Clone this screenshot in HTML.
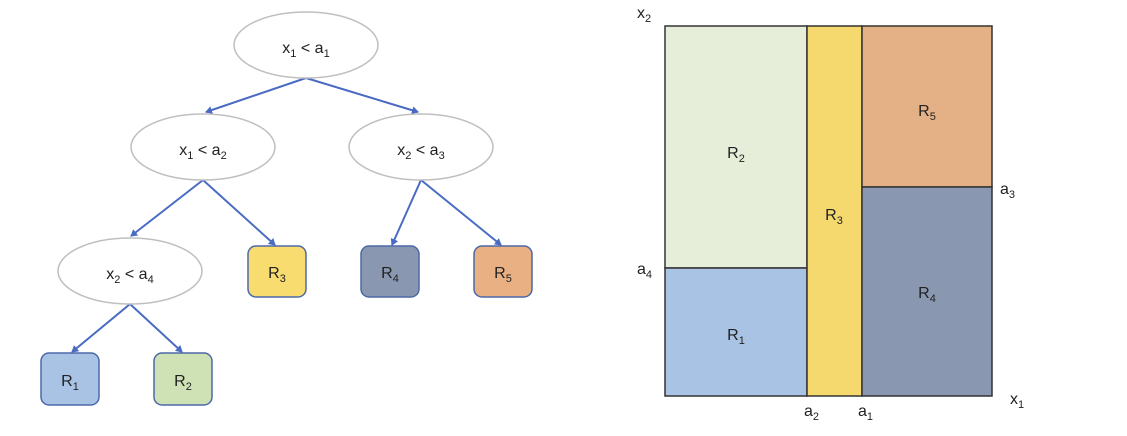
<!DOCTYPE html>
<html><head><meta charset="utf-8"><style>
html,body{margin:0;padding:0;background:#fff;}
svg{display:block;}
text{font-family:"Liberation Sans",sans-serif;font-size:16px;fill:#222;}
tspan.s{font-size:11px;}
</style></head><body>
<svg width="1127" height="436" viewBox="0 0 1127 436" xmlns="http://www.w3.org/2000/svg">
<defs>
<marker id="ah" markerWidth="8" markerHeight="8" refX="6" refY="4" orient="auto" markerUnits="userSpaceOnUse">
<path d="M0,0 L7,4 L0,8 z" fill="#4a6bc4"/></marker>
</defs>
<g stroke="#4a6bc4" stroke-width="2" marker-end="url(#ah)">
<line x1="306" y1="78" x2="206" y2="112"/>
<line x1="306" y1="78" x2="418" y2="112"/>
<line x1="203" y1="180" x2="131" y2="236"/>
<line x1="203" y1="180" x2="275" y2="245"/>
<line x1="421" y1="180" x2="392" y2="245"/>
<line x1="421" y1="180" x2="501" y2="245"/>
<line x1="130" y1="304" x2="72" y2="352"/>
<line x1="130" y1="304" x2="182" y2="352"/>
</g>
<g fill="#fff" stroke="#bfbfbf" stroke-width="1.5">
<ellipse cx="306" cy="45" rx="72" ry="33"/>
<ellipse cx="203" cy="147" rx="72" ry="33"/>
<ellipse cx="421" cy="147" rx="72" ry="33"/>
<ellipse cx="130" cy="271" rx="72" ry="33"/>
</g>
<g text-anchor="middle">
<text x="306" y="53">x<tspan class="s" dy="4">1</tspan><tspan dy="-4"> &lt; a</tspan><tspan class="s" dy="4">1</tspan></text>
<text x="203" y="155">x<tspan class="s" dy="4">1</tspan><tspan dy="-4"> &lt; a</tspan><tspan class="s" dy="4">2</tspan></text>
<text x="421" y="155">x<tspan class="s" dy="4">2</tspan><tspan dy="-4"> &lt; a</tspan><tspan class="s" dy="4">3</tspan></text>
<text x="130" y="279">x<tspan class="s" dy="4">2</tspan><tspan dy="-4"> &lt; a</tspan><tspan class="s" dy="4">4</tspan></text>
</g>
<g stroke="#4d68a8" stroke-width="1.5">
<rect x="248" y="246" width="58" height="51" rx="8" fill="#f8dc6f"/>
<rect x="361" y="246" width="58" height="51" rx="8" fill="#8a97b0"/>
<rect x="474" y="246" width="58" height="51" rx="8" fill="#e8b083"/>
<rect x="41" y="353" width="58" height="52" rx="8" fill="#a9c3e4"/>
<rect x="154" y="353" width="58" height="52" rx="8" fill="#cfe2b6"/>
</g>
<g text-anchor="middle">
<text x="277" y="278">R<tspan class="s" dy="4">3</tspan></text>
<text x="390" y="278">R<tspan class="s" dy="4">4</tspan></text>
<text x="503" y="278">R<tspan class="s" dy="4">5</tspan></text>
<text x="70" y="386">R<tspan class="s" dy="4">1</tspan></text>
<text x="183" y="386">R<tspan class="s" dy="4">2</tspan></text>
</g>
<g stroke="#333" stroke-width="1.5">
<rect x="665" y="26" width="142" height="242" fill="#e6eed9"/>
<rect x="665" y="268" width="142" height="128" fill="#a9c3e4"/>
<rect x="807" y="26" width="55" height="370" fill="#f5d96e"/>
<rect x="862" y="26" width="130" height="161" fill="#e4b085"/>
<rect x="862" y="187" width="130" height="209" fill="#8a97b0"/>
</g>
<g text-anchor="middle">
<text x="736" y="158">R<tspan class="s" dy="4">2</tspan></text>
<text x="736" y="340">R<tspan class="s" dy="4">1</tspan></text>
<text x="834" y="220">R<tspan class="s" dy="4">3</tspan></text>
<text x="927" y="116">R<tspan class="s" dy="4">5</tspan></text>
<text x="927" y="298">R<tspan class="s" dy="4">4</tspan></text>
</g>
<text x="637" y="18">x<tspan class="s" dy="4">2</tspan></text>
<text x="637" y="274">a<tspan class="s" dy="4">4</tspan></text>
<text x="1000" y="194">a<tspan class="s" dy="4">3</tspan></text>
<text x="1010" y="404">x<tspan class="s" dy="4">1</tspan></text>
<text x="804" y="416">a<tspan class="s" dy="4">2</tspan></text>
<text x="858" y="416">a<tspan class="s" dy="4">1</tspan></text>
</svg>
</body></html>
